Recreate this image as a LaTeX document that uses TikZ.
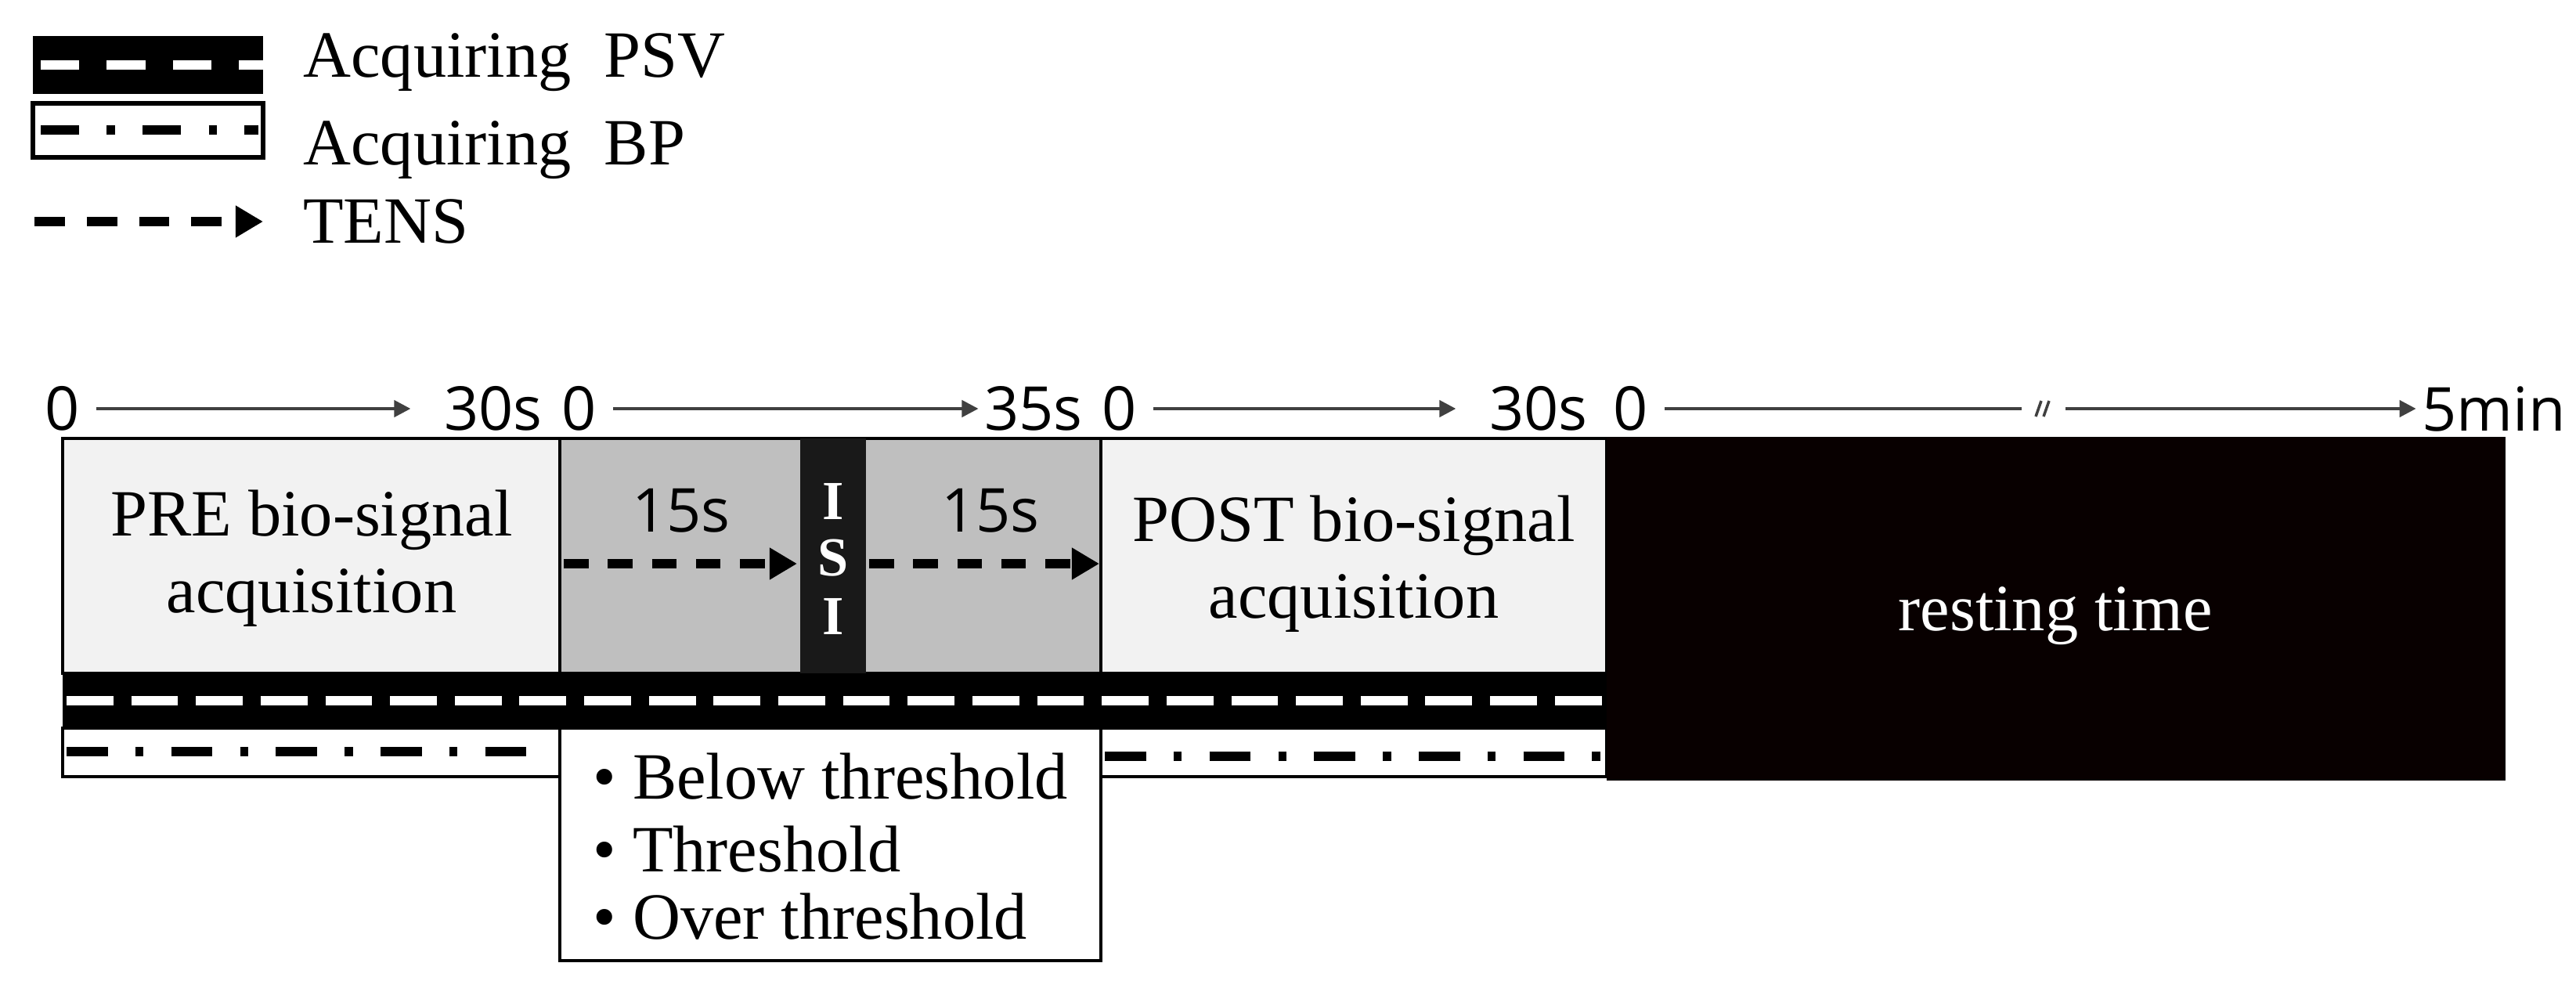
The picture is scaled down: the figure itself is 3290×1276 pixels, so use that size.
\documentclass[tikz,border=0pt]{standalone}
\usepackage{fontspec}
\setmainfont{Liberation Serif}
\newfontfamily\sansf{Open Sans}
\usetikzlibrary{arrows.meta}
\begin{document}
\begin{tikzpicture}[x=0.01cm,y=-0.01cm,
  lbl/.style={font=\fontsize{24}{28}\selectfont},
  tl/.style={font=\sansf\fontsize{22}{26}\selectfont, inner sep=0pt},
  tlarrow/.style={draw=black!75, line width=1.2pt, -{Triangle[length=6pt,width=6pt]}},
  psvdash/.style={white, line width=3.5pt, dash pattern=on 17pt off 6.5pt},
  bpdash/.style={black, line width=3.5pt, dash pattern=on 15pt off 10pt on 3pt off 10pt},
  tens/.style={black, line width=3.5pt, dash pattern=on 9pt off 7pt, -{Triangle[length=10pt,width=11pt]}},
  frame/.style={draw=black, line width=1pt}]
\useasboundingbox (0,0) rectangle (3290,1276);
% legend
\fill[black] (42,46) rectangle (336,120);
\draw[psvdash, dash pattern=on 14pt off 10pt] (52,83) -- (336,83);
\draw[frame, line width=1.5pt] (42,132) rectangle (336,201);
\draw[bpdash, dash pattern=on 14pt off 10pt on 3pt off 10pt] (52,166) -- (330,166);
\draw[tens, dash pattern=on 11pt off 8pt] (44,283) -- (336,283);
\node[lbl, anchor=west] (l1) at (375,80) {Acquiring\ \ PSV};
\node[lbl, anchor=west] (l2) at (375,192) {Acquiring\ \ BP};
\node[lbl, anchor=west] (l3) at (375,283) {TENS};
% boxes
\node[frame, fill=black!5, minimum width=635\pgflinewidth, inner sep=0pt, anchor=north west] (dummy) at (80,560) {};
\fill[black!5] (80,560) rectangle (715,860);
\draw[frame] (80,560) rectangle (715,860);
\fill[black!25] (715,560) rectangle (1406,860);
\draw[frame] (715,560) rectangle (1406,860);
\fill[black!90] (1022,560) rectangle (1106,860);
\fill[black!5] (1406,560) rectangle (2052,860);
\draw[frame] (1406,560) rectangle (2052,860);
% BP bands
\fill[white] (80,930) rectangle (715,992);
\draw[frame] (80,930) rectangle (715,992);
\draw[frame] (1406,930) rectangle (2052,992);
\draw[bpdash] (85,960) -- (700,960);
\draw[bpdash] (1411,966) -- (2050,966);
% bullet box
\draw[frame] (715,930) rectangle (1406,1227);
\node[lbl, anchor=west, align=left] (b1) at (745,992) {\textbullet\ Below threshold};
\node[lbl, anchor=west, align=left] (b2) at (745,1085) {\textbullet\ Threshold};
\node[lbl, anchor=west, align=left] (b3) at (745,1171) {\textbullet\ Over threshold};
% PSV band
\fill[black] (80,860) rectangle (2052,930);
\draw[psvdash] (85,895) -- (2052,895);
% rest
\fill[black!92!red!40!black] (2052,558) rectangle (3200,997);
\node[lbl, white] (rest) at (2625,787) {resting time};
% texts
\node[lbl, align=center] (pre) at (398,713) {PRE bio-signal\\acquisition};
\node[lbl, align=center] (post) at (1729,720) {POST bio-signal\\acquisition};
\node[tl] (s1) at (870,652) {15s};
\node[tl] (s2) at (1265,652) {15s};
\node[white, font=\bfseries\fontsize{20}{24}\selectfont] at (1064,640) {I};
\node[white, font=\bfseries\fontsize{20}{24}\selectfont] at (1064,713) {S};
\node[white, font=\bfseries\fontsize{20}{24}\selectfont] at (1064,787) {I};
\coordinate (t1a) at (720,720); \coordinate (t1b) at (1018,720);
\coordinate (t2a) at (1110,720); \coordinate (t2b) at (1404,720);
\draw[tens] (t1a) -- (t1b);
\draw[tens] (t2a) -- (t2b);
% timeline
\node[tl] (a0) at (80,522) {0};
\node[tl] (a1) at (630,522) {30s};
\node[tl] (b0) at (740,522) {0};
\node[tl] (b1x) at (1320,522) {35s};
\node[tl] (c0) at (1430,522) {0};
\node[tl] (c1) at (1965,522) {30s};
\node[tl] (d0) at (2083,522) {0};
\node[tl] (d1) at (3185,522) {5min};
\draw[tlarrow] (a0.east)++(20,0) -- ([xshift=-12]a1.west);
\draw[tlarrow] (b0.east)++(20,0) -- ([xshift=-2]b1x.west);
\draw[tlarrow] (c0.east)++(20,0) -- ([xshift=-12]c1.west);
\coordinate (brk) at (2610,522);
\draw[draw=black!75, line width=1.2pt] (d0.east)++(20,0) -- ([xshift=-8]brk);
\draw[tlarrow] ([xshift=8]brk) -- ([xshift=-2]d1.west);
\draw[black!75, line width=1pt] (2600,532) -- (2607,512) (2610,532) -- (2617,512);
\end{tikzpicture}
\end{document}
